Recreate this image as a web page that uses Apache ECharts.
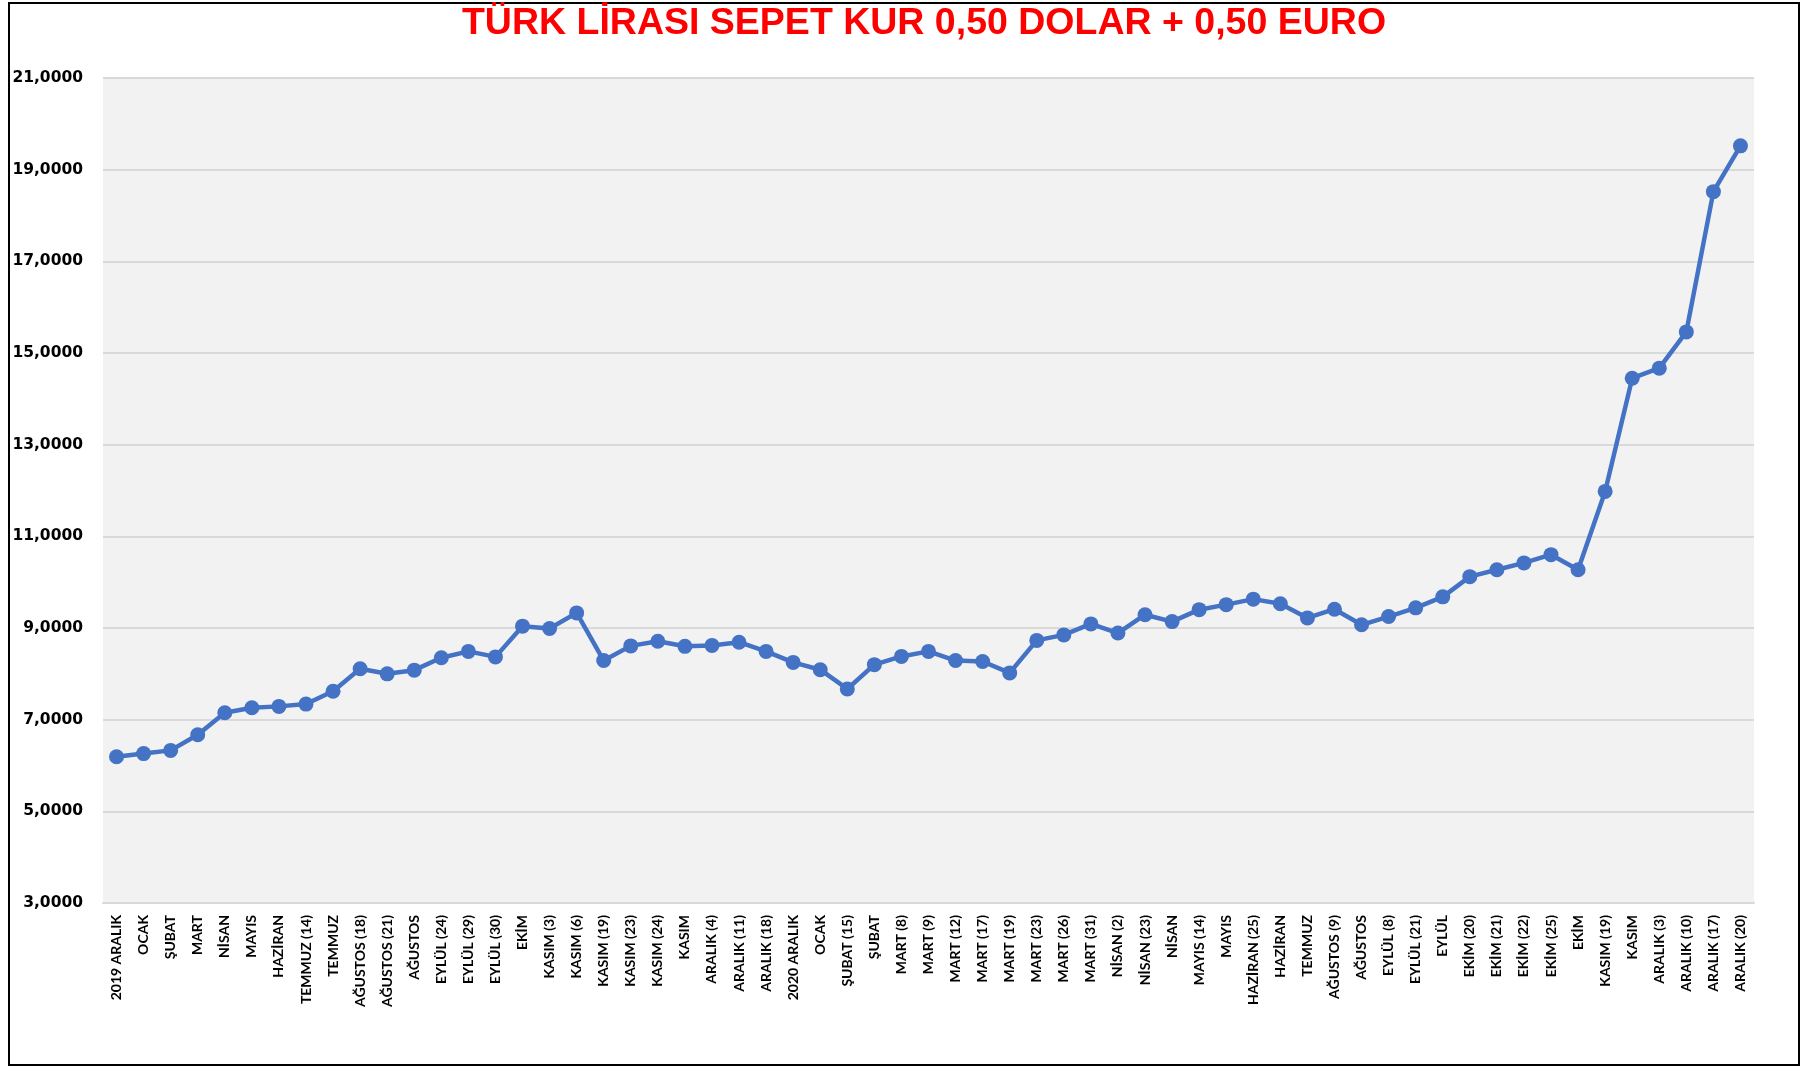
<!DOCTYPE html>
<html>
<head>
<meta charset="utf-8">
<script src="https://cdn.jsdelivr.net/npm/echarts@6/dist/echarts.min.js"></script>
<style>
html,body{margin:0;padding:0;background:#fff;}
#chart{width:1812px;height:1067px;}
</style>
</head>
<body>
<div id="chart"></div>
<script>
const titleText = 'TÜRK LİRASI SEPET KUR 0,50 DOLAR + 0,50 EURO';

const categories = [
  '2019 ARALIK','OCAK','ŞUBAT','MART','NİSAN','MAYIS','HAZİRAN','TEMMUZ (14)','TEMMUZ',
  'AĞUSTOS (18)','AĞUSTOS (21)','AĞUSTOS','EYLÜL (24)','EYLÜL (29)','EYLÜL (30)','EKİM',
  'KASIM (3)','KASIM (6)','KASIM (19)','KASIM (23)','KASIM (24)','KASIM',
  'ARALIK (4)','ARALIK (11)','ARALIK (18)','2020 ARALIK','OCAK','ŞUBAT (15)','ŞUBAT',
  'MART (8)','MART (9)','MART (12)','MART (17)','MART (19)','MART (23)','MART (26)','MART (31)',
  'NİSAN (2)','NİSAN (23)','NİSAN','MAYIS (14)','MAYIS','HAZİRAN (25)','HAZİRAN','TEMMUZ',
  'AĞUSTOS (9)','AĞUSTOS','EYLÜL (8)','EYLÜL (21)','EYLÜL',
  'EKİM (20)','EKİM (21)','EKİM (22)','EKİM (25)','EKİM',
  'KASIM (19)','KASIM','ARALIK (3)','ARALIK (10)','ARALIK (17)','ARALIK (20)'
];

const basketRate = [
  6.19, 6.26, 6.33, 6.67, 7.15, 7.26, 7.29, 7.34, 7.62,
  8.11, 8.00, 8.08, 8.35, 8.49, 8.37, 9.04,
  8.99, 9.33, 8.29, 8.61, 8.71, 8.60,
  8.62, 8.69, 8.49, 8.25, 8.09, 7.67, 8.20,
  8.38, 8.49, 8.29, 8.27, 8.02, 8.73, 8.85, 9.09,
  8.89, 9.29, 9.14, 9.40, 9.51, 9.63, 9.53, 9.22,
  9.41, 9.07, 9.25, 9.44, 9.68,
  10.12, 10.27, 10.42, 10.60, 10.27,
  11.98, 14.45, 14.67, 15.46, 18.52, 19.52
];

const yMin = 3, yMax = 21, yStep = 2;

const chart = echarts.init(document.getElementById('chart'), null, {renderer: 'canvas'});
chart.setOption({
  animation: false,
  backgroundColor: '#ffffff',
  title: {
    text: titleText,
    left: 919,
    textAlign: 'center',
    top: 0,
    textStyle: {
      color: '#ff0000',
      fontFamily: 'Liberation Sans, Arial, sans-serif',
      fontWeight: 'bold',
      fontSize: 37.5
    }
  },
  graphic: [{
    type: 'rect',
    shape: {x: 9, y: 3, width: 1790, height: 1062},
    style: {fill: 'none', stroke: '#000', lineWidth: 2},
    silent: true
  }],
  grid: {
    left: 103, right: 58, top: 78, bottom: 164,
    show: true, backgroundColor: '#F2F2F2', borderWidth: 0,
    containLabel: false
  },
  xAxis: {
    type: 'category',
    data: categories,
    boundaryGap: true,
    axisLine: {show: true, lineStyle: {color: '#D9D9D9', width: 2}},
    axisTick: {show: false},
    axisLabel: {
      interval: 0,
      rotate: 90,
      margin: 12,
      color: '#000',
      fontFamily: 'Lato, sans-serif',
      fontWeight: 'bold',
      fontSize: 14
    }
  },
  yAxis: {
    type: 'value',
    min: yMin, max: yMax, interval: yStep,
    axisLine: {show: false},
    axisTick: {show: false},
    splitLine: {show: true, lineStyle: {color: '#D9D9D9', width: 2}},
    axisLabel: {
      margin: 20,
      color: '#000',
      fontFamily: 'DejaVu Sans, sans-serif',
      fontWeight: 'bold',
      fontSize: 15.5,
      formatter: v => v.toFixed(4).replace('.', ',')
    }
  },
  series: [{
    type: 'line',
    data: basketRate,
    symbol: 'circle',
    symbolSize: 15,
    lineStyle: {color: '#4472C4', width: 4.5},
    itemStyle: {color: '#4472C4'}
  }]
});
</script>
</body>
</html>
